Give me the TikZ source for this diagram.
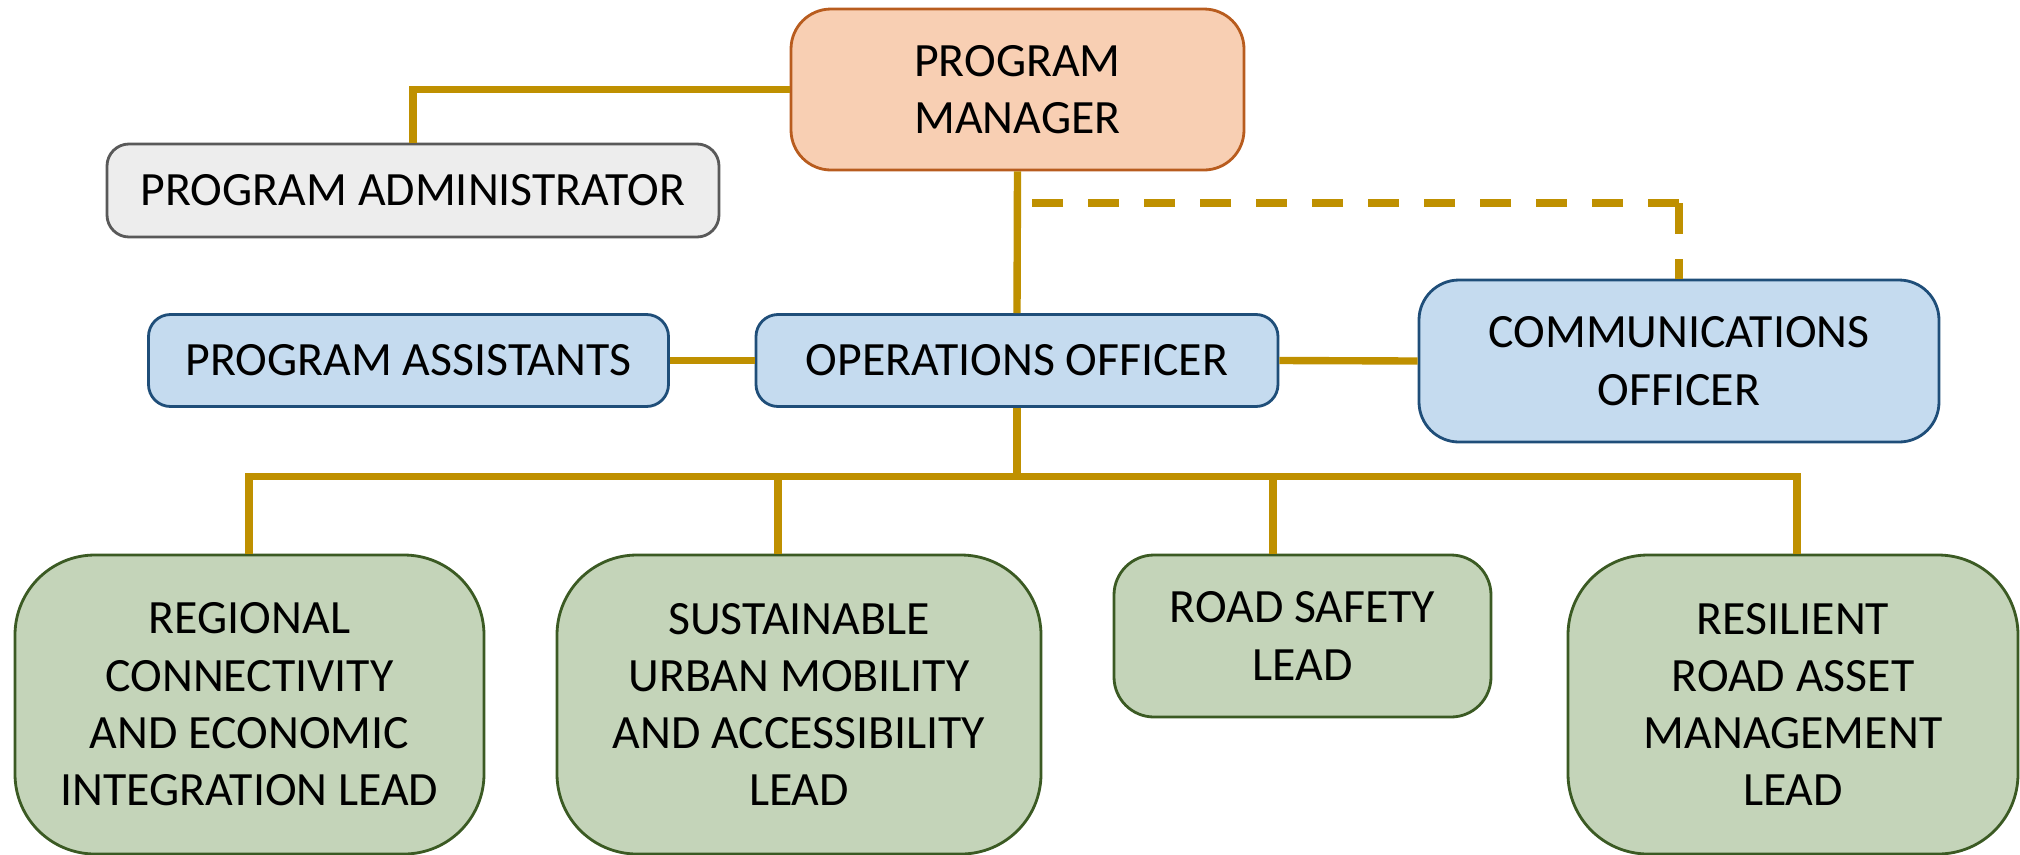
\documentclass[tikz,border=0pt]{standalone}
\usepackage{fontspec}
\setmainfont{Carlito}
\usepackage{tikz}
\usetikzlibrary{arrows.meta,positioning}
\definecolor{linkgold}{HTML}{BF9000}
\definecolor{pmfill}{HTML}{F8CFB3}
\definecolor{pmline}{HTML}{B85C1E}
\definecolor{adminfill}{HTML}{EDEDED}
\definecolor{adminline}{HTML}{595959}
\definecolor{bluefill}{HTML}{C5DBEF}
\definecolor{blueline}{HTML}{1F4E79}
\definecolor{greenfill}{HTML}{C4D4B9}
\definecolor{greenline}{HTML}{3B5A23}

\begin{document}
\begin{tikzpicture}[
    box/.style={rectangle, line width=0.8pt, align=center, inner sep=0pt,
      font=\fontsize{13.6}{16.3}\selectfont},
    pmbox/.style={box, fill=pmfill, draw=pmline},
    greybox/.style={box, fill=adminfill, draw=adminline},
    bluebox/.style={box, fill=bluefill, draw=blueline},
    greenbox/.style={box, fill=greenfill, draw=greenline},
    link/.style={draw=linkgold, line width=2.1pt},
    dashlink/.style={link, dash pattern=on 0.31cm off 0.25cm}]
      \useasboundingbox (0,0) rectangle (20.2,-8.54);

      \node[pmbox, rounded corners=0.4cm, minimum width=4.53cm, minimum height=1.61cm] (PM) at (10.175,-0.895) {PROGRAM\\MANAGER};
      \node[greybox, rounded corners=0.22cm, minimum width=6.12cm, minimum height=0.93cm] (AD) at (4.13,-1.905) {PROGRAM ADMINISTRATOR};
      \node[bluebox, rounded corners=0.22cm, minimum width=5.2cm, minimum height=0.92cm] (AS) at (4.085,-3.605) {PROGRAM ASSISTANTS};
      \node[bluebox, rounded corners=0.22cm, minimum width=5.22cm, minimum height=0.92cm] (OO) at (10.17,-3.605) {OPERATIONS OFFICER};
      \node[bluebox, rounded corners=0.4cm, minimum width=5.2cm, minimum height=1.62cm] (CO) at (16.79,-3.61) {COMMUNICATIONS\\OFFICER};

      \begin{scope}[every node/.style={greenbox, rounded corners=0.8cm, minimum height=2.99cm}]
          \node[minimum width=4.69cm] (L1) at (2.495,-7.045) {REGIONAL\\CONNECTIVITY\\AND ECONOMIC\\INTEGRATION LEAD};
          \node[minimum width=4.84cm] (L2) at (7.99,-7.045) {SUSTAINABLE\\URBAN MOBILITY\\AND ACCESSIBILITY\\LEAD};
          \node[minimum width=3.77cm, minimum height=1.62cm, rounded corners=0.4cm] (L3) at (13.025,-6.36) {ROAD SAFETY\\LEAD};
          \node[minimum width=4.5cm] (L4) at (17.93,-7.045) {RESILIENT\\ROAD ASSET\\MANAGEMENT\\LEAD};
      \end{scope}

      \coordinate (DS) at (10.31,-2.03);
      \coordinate (T1) at (2.49,-4.765);
      \coordinate (T2) at (7.78,-4.765);
      \coordinate (T3) at (12.73,-4.765);
      \coordinate (T4) at (17.97,-4.765);

      \draw[link] (PM.west) -| (AD.north);
      \draw[link] (PM.south) -- (OO.north);
      \draw[dashlink] (DS -| CO.north) -- (DS);
      \draw[dashlink] (DS -| CO.north) -- (CO.north);
      \draw[link] (AS.east) -- (OO.west);
      \draw[link] (OO.east) -- (CO.west);
      \draw[link] (OO.south) -- (OO.south |- T1);
      \draw[link] (T1 |- L1.north) -- (T1) -- (T4) -- (T4 |- L4.north);
      \draw[link] (T2) -- (T2 |- L2.north);
      \draw[link] (T3) -- (T3 |- L3.north);
\end{tikzpicture}
\end{document}
